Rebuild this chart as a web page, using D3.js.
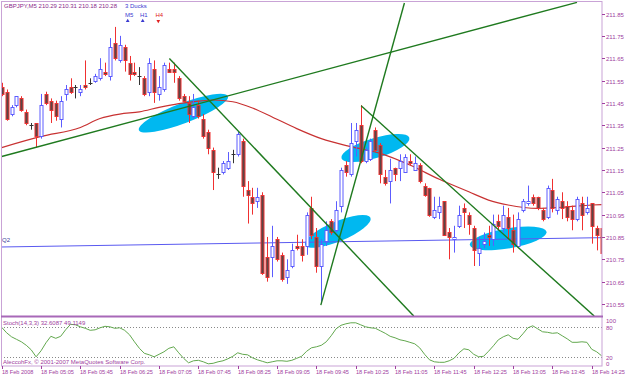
<!DOCTYPE html>
<html>
<head>
<meta charset="utf-8">
<script src="https://d3js.org/d3.v7.min.js"></script>
<style>
body {margin:0; background:white;}
text {font-family: "Liberation Sans", Arial, sans-serif; font-size: 6px;}
</style>
</head>
<body>
<svg width="625" height="378"></svg>
<script>
// GBPJPY M5 candles, one per 5 minutes, starting 18 Feb 04:25
var opens = [211.52,211.50,211.40,211.44,211.47,211.41,211.35,211.36,211.30,211.49,211.46,211.45,211.38,211.49,211.52,211.52,211.50,211.53,211.54,211.55,
  211.56,211.59,211.57,211.72,211.64,211.70,211.63,211.59,211.57,211.56,211.50,211.60,211.49,211.51,211.60,211.60,211.56,211.48,211.45,211.39,
  211.44,211.38,211.32,211.24,211.13,211.14,211.16,211.22,211.22,211.28,211.06,211.03,211.01,211.04,210.76,210.76,210.84,210.77,210.67,210.72,
  210.81,210.81,210.81,210.98,210.85,210.72,210.83,210.92,210.88,210.99,211.17,211.13,211.28,211.35,211.19,211.20,211.33,211.26,211.12,211.10,
  211.16,211.16,211.14,211.19,211.15,211.17,211.08,211.07,210.94,210.96,211.01,210.87,210.84,210.90,210.98,210.95,210.89,210.78,210.82,210.86,
  210.84,210.92,210.89,210.94,210.88,210.81,210.97,211.00,211.03,211.03,210.97,210.94,211.06,210.97,211.01,210.99,210.97,210.93,211.00,210.96,
  211.00,210.89,210.89];
var highs = [211.54,211.51,211.44,211.48,211.48,211.42,211.36,211.36,211.49,211.50,211.47,211.46,211.48,211.53,211.56,211.53,211.53,211.64,211.56,211.58,
  211.65,211.63,211.74,211.79,211.75,211.71,211.66,211.63,211.61,211.57,211.65,211.64,211.57,211.63,211.63,211.63,211.57,211.49,211.48,211.49,
  211.46,211.40,211.33,211.25,211.16,211.19,211.23,211.24,211.32,211.29,211.10,211.07,211.07,211.05,210.85,210.90,210.85,210.78,210.75,210.82,
  210.86,210.84,210.96,211.03,210.89,210.84,210.92,210.93,211.01,211.16,211.19,211.36,211.36,211.44,211.25,211.29,211.34,211.27,211.15,211.20,
  211.16,211.22,211.22,211.22,211.21,211.18,211.09,211.07,211.03,211.03,211.01,210.89,210.90,210.99,211.00,210.96,210.90,210.85,210.87,210.90,
  210.95,210.95,210.99,210.98,210.95,210.96,211.02,211.08,211.04,211.03,210.98,211.08,211.11,211.03,211.05,211.01,210.99,211.03,211.03,211.03,
  211.00,210.90,210.91];
var lows = [211.48,211.37,211.39,211.43,211.41,211.35,211.33,211.25,211.29,211.44,211.36,211.37,211.34,211.46,211.49,211.47,211.48,211.51,211.53,211.54,
  211.55,211.57,211.55,211.64,211.63,211.59,211.55,211.57,211.53,211.48,211.48,211.45,211.46,211.50,211.59,211.54,211.46,211.45,211.36,211.38,
  211.38,211.29,211.22,211.06,211.11,211.13,211.15,211.18,211.21,211.03,210.91,210.95,210.98,210.68,210.65,210.67,210.74,210.65,210.64,210.71,
  210.79,210.74,210.77,210.84,210.69,210.55,210.81,210.86,210.87,210.96,211.12,211.12,211.21,211.18,211.18,211.19,211.23,211.09,211.08,211.00,
  211.10,211.10,211.14,211.17,211.15,211.09,211.03,210.94,210.93,210.93,210.86,210.75,210.78,210.89,210.89,210.86,210.72,210.72,210.80,210.81,
  210.81,210.88,210.87,210.84,210.78,210.80,210.96,210.99,210.99,210.97,210.92,210.93,210.96,210.95,210.93,210.92,210.88,210.92,210.88,210.95,
  210.82,210.79,210.76];
var closes = [211.49,211.38,211.43,211.48,211.42,211.36,211.35,211.30,211.44,211.45,211.42,211.39,211.46,211.51,211.50,211.52,211.51,211.52,211.54,211.57,
  211.60,211.58,211.70,211.65,211.71,211.64,211.58,211.58,211.57,211.49,211.63,211.50,211.52,211.62,211.59,211.59,211.47,211.46,211.40,211.43,
  211.39,211.30,211.25,211.14,211.13,211.18,211.19,211.22,211.31,211.08,211.04,211.00,211.03,210.69,210.67,210.81,210.75,210.66,210.70,210.79,
  210.80,210.77,210.95,210.86,210.72,210.82,210.88,210.87,210.97,211.15,211.14,211.27,211.33,211.19,211.24,211.28,211.24,211.13,211.09,211.15,
  211.13,211.19,211.21,211.18,211.18,211.10,211.04,210.95,210.97,210.99,210.86,210.85,210.85,210.95,210.96,210.91,210.79,210.80,210.83,210.85,
  210.91,210.90,210.95,210.89,210.82,210.93,211.01,211.01,211.00,210.98,210.93,211.07,210.98,211.02,210.98,210.94,210.93,211.02,210.95,210.98,
  210.90,210.86,210.78];

// moving average (read at some bars)
var maBars = [0,8,16,20,24,28,32,36,40,43,47,51,55,60,65,71,77,83,89,95,99,103,109,114,120,122];
var maVals = [211.25,211.30,211.34,211.38,211.40,211.41,211.43,211.447,211.458,211.463,211.455,211.427,211.387,211.335,211.29,211.254,211.224,211.172,211.108,211.052,211.015,210.993,210.978,210.983,210.993,210.995];

// Stochastic main line per bar
var stoch = [80,69,61,56,51,44,35,21,33,49,62,58,62,75,86,85,81,78,74,75,
  79,82,81,78,79,74,65,51,38,28,25,21,26,31,38,41,29,18,9,13,
  14,11,7,8,11,13,17,22,29,26,25,19,15,12,9,11,13,13,12,14,
  18,22,32,39,41,44,51,63,77,84,87,89,89,85,81,79,78,73,68,62,
  59,55,53,50,47,39,26,15,11,10,10,13,18,29,37,35,26,21,22,32,
  43,55,61,65,58,56,67,79,83,77,71,70,68,69,63,57,50,50,51,50,
  36,31,23];

// trend lines [bar, price]
var trendLines = [
  [[0, 211.21], [117, 211.90]],
  [[34.1, 211.649], [83.8, 210.496]],
  [[64.9, 210.545], [81.9, 211.897]],
  [[73.1, 211.437], [120.5, 210.496]]
];
var blueLine = [[0, 210.805], [122, 210.847]];
// highlighted zones: left end, right end
var zones = [
  [[27.9, 211.328], [46.0, 211.480]],
  [[69.1, 211.202], [82.9, 211.294]],
  [[61.7, 210.814], [75.0, 210.936]],
  [[95.2, 210.814], [110.8, 210.873]]
];

var priceTicks = [211.85,211.75,211.65,211.55,211.45,211.35,211.25,211.15,211.05,210.95,210.85,210.75,210.65,210.55];
var timeLabels = ["18 Feb 2008","18 Feb 05:05","18 Feb 05:45","18 Feb 06:25","18 Feb 07:05","18 Feb 07:45","18 Feb 08:25","18 Feb 09:05",
  "18 Feb 09:45","18 Feb 10:25","18 Feb 11:05","18 Feb 11:45","18 Feb 12:25","18 Feb 13:05","18 Feb 13:45","18 Feb 14:25"];
var stochTicks = [100, 80, 20, 0];

var svg = d3.select("svg");
var frame = "#c9a3d6", label = "#a040a0";
var right = 602, mainTop = 1, mainBot = 316, stBot = 366;

var x = d3.scaleLinear().domain([0, 122]).range([1.7, 601.6]);
var y = d3.scaleLinear().domain([210.55, 211.85]).range([304, 13.5]);
var ys = d3.scaleLinear().domain([0, 100]).range([367.3, 317.3]);

var defs = svg.append("defs");
defs.append("clipPath").attr("id", "cm").append("rect")
  .attr("x", 1).attr("y", mainTop).attr("width", right - 1).attr("height", mainBot - mainTop);
defs.append("clipPath").attr("id", "cs").append("rect")
  .attr("x", 1).attr("y", mainBot + 1).attr("width", right - 1).attr("height", stBot - mainBot - 1);

var main = svg.append("g").attr("clip-path", "url(#cm)");

// cyan zones
zones.forEach(function(z) {
  var x1 = x(z[0][0]), y1 = y(z[0][1]), x2 = x(z[1][0]), y2 = y(z[1][1]);
  var len = Math.sqrt((x2-x1)*(x2-x1) + (y2-y1)*(y2-y1));
  var ang = Math.atan2(y2-y1, x2-x1) * 180 / Math.PI;
  main.append("ellipse")
    .attr("cx", 0).attr("cy", 0).attr("rx", len/2).attr("ry", 10)
    .attr("transform", "translate(" + ((x1+x2)/2) + "," + ((y1+y2)/2) + ") rotate(" + ang + ")")
    .attr("fill", "#00b8f0");
});

// blue line
main.append("line")
  .attr("x1", x(blueLine[0][0]) - 2).attr("y1", y(blueLine[0][1]))
  .attr("x2", x(blueLine[1][0]) + 2).attr("y2", y(blueLine[1][1]))
  .attr("stroke", "#5a5af0").attr("stroke-width", 1);

// moving average
main.append("path")
  .datum(maBars.map(function(b, i) { return [b, maVals[i]]; }))
  .attr("d", d3.line().x(function(d) { return x(d[0]); }).y(function(d) { return y(d[1]); }).curve(d3.curveMonotoneX))
  .attr("fill", "none").attr("stroke", "#c83232").attr("stroke-width", 1.2);

// candles
var bars = main.selectAll("g.bar").data(opens).enter().append("g");
bars.each(function(o, i) {
  var g = d3.select(this);
  var c = closes[i];
  var cx = Math.round(x(i)) + 0.5;
  var col = c > o ? "#5c5cff" : (c < o ? "#f03030" : "#333");
  g.append("line").attr("x1", cx).attr("x2", cx)
    .attr("y1", y(highs[i])).attr("y2", y(lows[i]))
    .attr("stroke", col).attr("stroke-width", 1);
  if (c == o) {
    g.append("line").attr("x1", cx - 2).attr("x2", cx + 2)
      .attr("y1", Math.round(y(o)) + 0.5).attr("y2", Math.round(y(o)) + 0.5)
      .attr("stroke", col);
  } else {
    var top = Math.round(y(Math.max(o, c))), bot = Math.round(y(Math.min(o, c)));
    g.append("rect").attr("x", cx - 1.5).attr("width", 3)
      .attr("y", top + 0.5).attr("height", Math.max(bot - top, 1))
      .attr("fill", c > o ? "white" : "#5a4646")
      .attr("stroke", col).attr("stroke-width", 1);
  }
});

// green trend lines
trendLines.forEach(function(t) {
  main.append("line")
    .attr("x1", x(t[0][0])).attr("y1", y(t[0][1]))
    .attr("x2", x(t[1][0])).attr("y2", y(t[1][1]))
    .attr("stroke", "#1f7a1f").attr("stroke-width", 1.4);
});

// stochastic panel
var st = svg.append("g").attr("clip-path", "url(#cs)");
[80, 20].forEach(function(v) {
  st.append("line").attr("x1", 1).attr("x2", right)
    .attr("y1", Math.round(ys(v)) + 0.5).attr("y2", Math.round(ys(v)) + 0.5)
    .attr("stroke", "#888").attr("stroke-dasharray", "1,2");
});
st.append("path")
  .datum(stoch)
  .attr("d", d3.line().x(function(d, i) { return x(i); }).y(function(d) { return ys(d); }))
  .attr("fill", "none").attr("stroke", "#62a84e").attr("stroke-width", 1);

// frames
svg.append("rect").attr("x", 1.5).attr("y", 1.5).attr("width", right - 1.5).attr("height", stBot - 1.5)
  .attr("fill", "none").attr("stroke", frame);
svg.append("line").attr("x1", 1).attr("x2", right + 1).attr("y1", mainBot + 0.5).attr("y2", mainBot + 0.5)
  .attr("stroke", "#a868b8").attr("stroke-width", 2);

// price axis
priceTicks.forEach(function(p) {
  var py = Math.round(y(p)) + 0.5;
  svg.append("line").attr("x1", right).attr("x2", right + 3).attr("y1", py).attr("y2", py).attr("stroke", label);
  svg.append("text").attr("x", right + 4).attr("y", py + 2).attr("fill", label).text(p.toFixed(2));
});

// stochastic axis
var stLabelY = {100: 323, 80: 329.5, 20: 359.5, 0: 365.5};
stochTicks.forEach(function(v) {
  svg.append("text").attr("x", right + 4).attr("y", stLabelY[v]).attr("fill", label).text(v);
});

// time axis
timeLabels.forEach(function(t, i) {
  var tx = Math.round(x(i * 8)) + 0.5;
  svg.append("line").attr("x1", tx).attr("x2", tx).attr("y1", stBot).attr("y2", stBot + 3).attr("stroke", label);
  svg.append("text").attr("x", tx - 0.5).attr("y", 374).attr("fill", label)
    .style("font-size", "5.6px").text(t);
});

// captions
svg.append("text").attr("x", 4).attr("y", 8).attr("fill", "#8a2a8a").text("GBPJPY,M5  210.29 210.31 210.18 210.28");
svg.append("text").attr("x", 125).attr("y", 8).attr("fill", "#3a3ad0").text("3 Ducks");
svg.append("text").attr("x", 125).attr("y", 17).attr("fill", "#3a3ad0").text("M5");
svg.append("text").attr("x", 140).attr("y", 17).attr("fill", "#3a3ad0").text("H1");
svg.append("text").attr("x", 155.5).attr("y", 17).attr("fill", "#e02020").text("H4");
var tri = d3.symbol().type(d3.symbolTriangle).size(6);
[[127.7, "#3a3ad0", 0], [142.7, "#3a3ad0", 0], [158.3, "#e02020", 180]].forEach(function(a) {
  svg.append("path").attr("d", tri).attr("fill", a[1])
    .attr("transform", "translate(" + a[0] + ",21) rotate(" + a[2] + ")");
});
svg.append("text").attr("x", 2).attr("y", 242).attr("fill", "#3a3a9a").text("Q2");
svg.append("text").attr("x", 3).attr("y", 325).attr("fill", label).text("Stoch(14,3,3) 32.6087 49.1149");
svg.append("text").attr("x", 3).attr("y", 364).attr("fill", label).text("AleccohFx, \u00a9 2001-2007 MetaQuotes Software Corp.");
</script>
</body>
</html>
